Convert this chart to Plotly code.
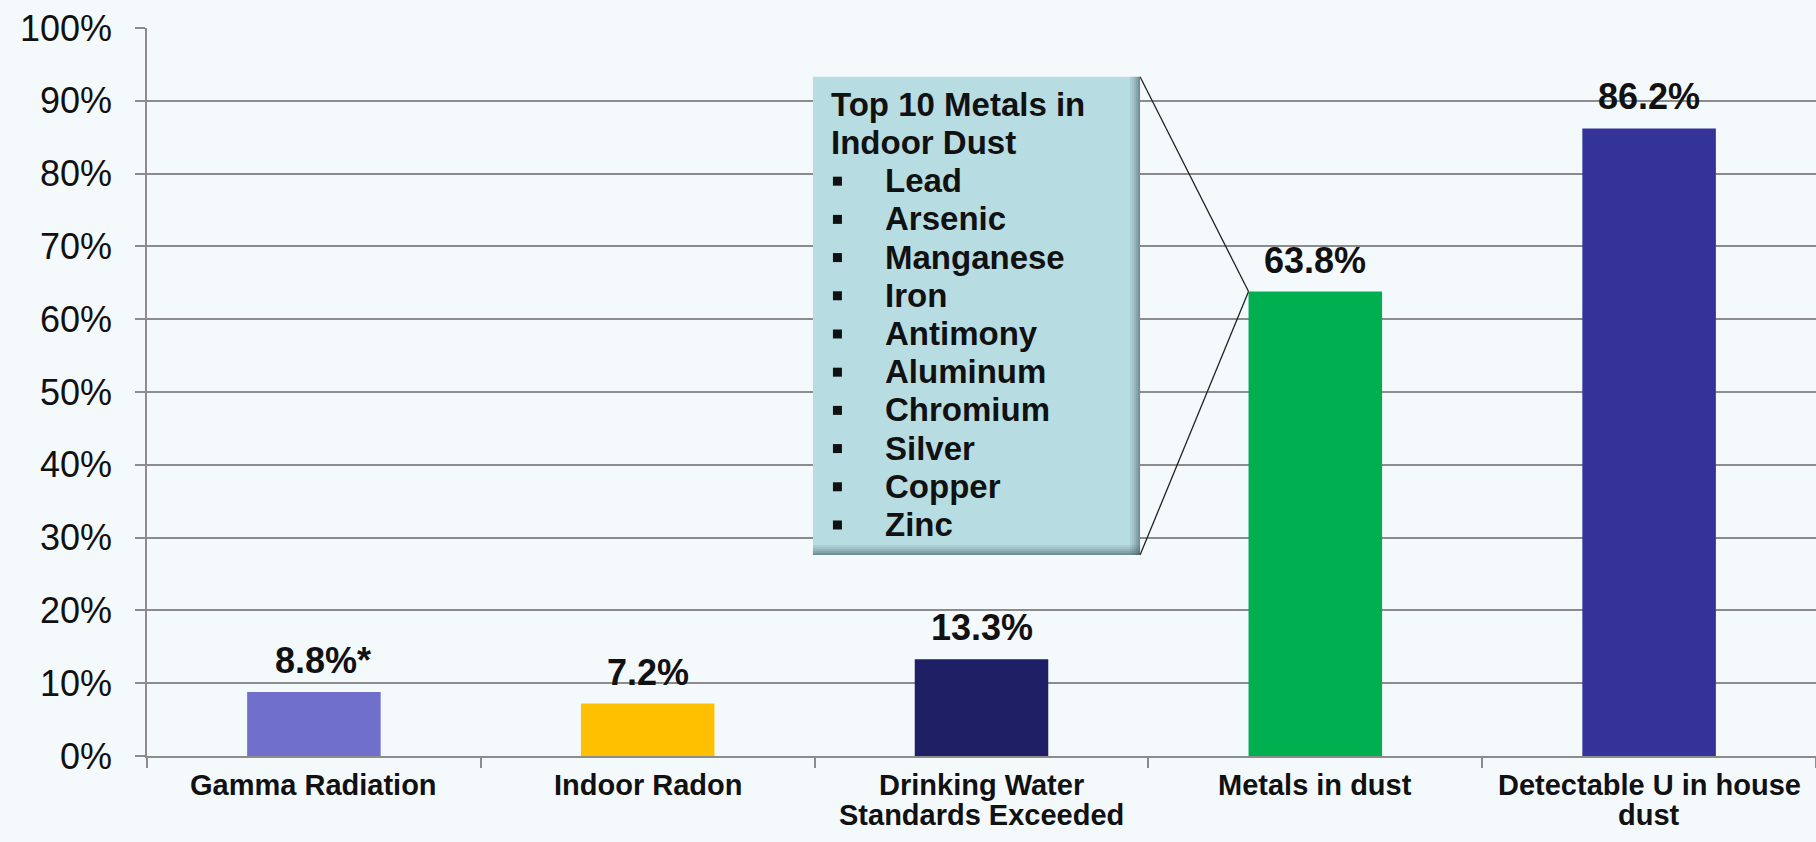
import plotly.graph_objects as go

# ---- data -----------------------------------------------------------------
categories = [
    "Gamma Radiation",
    "Indoor Radon",
    "Drinking Water Standards Exceeded",
    "Metals in dust",
    "Detectable U in house dust",
]
category_lines = [
    ["Gamma Radiation"],
    ["Indoor Radon"],
    ["Drinking Water", "Standards Exceeded"],
    ["Metals in dust"],
    ["Detectable U in house", "dust"],
]
percent_values = [8.8, 7.2, 13.3, 63.8, 86.2]
label_notes = ["*", "", "", "", ""]
y_ticks = [0, 10, 20, 30, 40, 50, 60, 70, 80, 90, 100]
y_tick_labels = [f"{t}%" for t in y_ticks]

callout_title = ["Top 10 Metals in", "Indoor Dust"]
top_metals = ["Lead", "Arsenic", "Manganese", "Iron", "Antimony",
              "Aluminum", "Chromium", "Silver", "Copper", "Zinc"]

# ---- styling --------------------------------------------------------------
bar_colors = ["#7070CC", "#FFC000", "#1F1F66", "#00B050", "#333399"]
FONT = "Liberation Sans, Arial, sans-serif"
GRID = "#8C8C8C"
BG = "#F4F9FC"
BOX_FILL = "#B7DDE2"
TEXT = "#111111"
BAR_WIDTH = 0.4

fig = go.Figure()
fig.add_trace(go.Bar(
    x=categories,
    y=percent_values,
    width=BAR_WIDTH,
    marker=dict(color=bar_colors, line=dict(width=0)),
    hoverinfo="skip",
))

annotations = []

# value labels above the bars
for cat, val, note in zip(categories, percent_values, label_notes):
    annotations.append(dict(
        x=cat, y=val, xref="x", yref="y",
        text=f"<b>{val:.1f}%{note}</b>",
        showarrow=False, xanchor="center", yanchor="bottom",
        xshift=9 if note else 0, yshift=9,
        font=dict(family=FONT, size=36, color=TEXT),
    ))

# category labels under the axis, one annotation per text line
for cat, lines in zip(categories, category_lines):
    for j, line in enumerate(lines):
        annotations.append(dict(
            x=cat, y=0, xref="x", yref="paper",
            text=f"<b>{line}</b>",
            showarrow=False, xanchor="center", yanchor="top",
            yshift=-11 - 30 * j,
            font=dict(family=FONT, size=29, color=TEXT),
        ))

# ---- callout box listing the metals --------------------------------------
box_x0, box_x1 = 1.495, 2.475
box_y0, box_y1 = 27.6, 93.3
target_idx = 3
target_x = target_idx - BAR_WIDTH / 2
target_y = percent_values[target_idx]

shapes = []
# connector lines from the box corners to the bar's top-left corner
for corner_y in (box_y1, box_y0):
    shapes.append(dict(
        type="line", xref="x", yref="y",
        x0=box_x1, y0=corner_y, x1=target_x, y1=target_y,
        line=dict(color="#222222", width=1.3), layer="above",
    ))
# box body
shapes.append(dict(
    type="rect", xref="x", yref="y",
    x0=box_x0, x1=box_x1, y0=box_y0, y1=box_y1,
    fillcolor=BOX_FILL, line=dict(width=0), layer="above",
))
# bevel shading along bottom and right edges
bevel = ["rgba(60,80,85,0.10)", "rgba(60,80,85,0.18)", "rgba(60,80,85,0.28)",
         "rgba(60,80,85,0.40)", "rgba(60,80,85,0.55)"]
for k, col in enumerate(bevel):
    shapes.append(dict(
        type="rect", xref="x", yref="y",
        x0=box_x0, x1=box_x1,
        ysizemode="pixel", yanchor=box_y0, y0=10 - 2 * k, y1=10 - 2 * k - 2,
        fillcolor=col, line=dict(width=0), layer="above",
    ))
    shapes.append(dict(
        type="rect", xref="x", yref="y",
        xsizemode="pixel", xanchor=box_x1, x0=-10 + 2 * k, x1=-10 + 2 * k + 2,
        y0=box_y0, y1=box_y1,
        fillcolor=col, line=dict(width=0), layer="above",
    ))

BOX_FONT = 33
LINE_STEP = 38.2        # px between baselines inside the box
FIRST_TOP = 7           # px from box top to first text box top
BASE_OFF = 31           # px from a text box top to its baseline

def box_line(text, k, indent):
    return dict(
        x=box_x0, y=box_y1, xref="x", yref="y",
        text=f"<b>{text}</b>",
        showarrow=False, xanchor="left", yanchor="top", align="left",
        xshift=indent, yshift=-(FIRST_TOP + LINE_STEP * k),
        font=dict(family=FONT, size=BOX_FONT, color=TEXT),
    )

for k, t in enumerate(callout_title):
    annotations.append(box_line(t, k, 16))
for m_i, metal in enumerate(top_metals):
    k = m_i + len(callout_title)
    annotations.append(box_line(metal, k, 70))
    baseline = FIRST_TOP + BASE_OFF + LINE_STEP * k
    shapes.append(dict(
        type="rect", xref="x", yref="y",
        xsizemode="pixel", xanchor=box_x0, x0=20, x1=29,
        ysizemode="pixel", yanchor=box_y1, y0=-(baseline - 14.5), y1=-(baseline - 5.5),
        fillcolor=TEXT, line=dict(width=0), layer="above",
    ))

fig.update_layout(
    width=1816, height=842,
    margin=dict(l=147, r=0, t=28, b=86, pad=0),
    paper_bgcolor=BG, plot_bgcolor=BG,
    showlegend=False,
    bargap=0.6,
    shapes=shapes,
    annotations=annotations,
    xaxis=dict(
        type="category",
        range=[-0.5, len(categories) - 0.5],
        showline=True, linecolor=GRID, linewidth=1.5,
        ticks="outside", tickson="boundaries", ticklen=10,
        tickcolor=GRID, tickwidth=1.5,
        showticklabels=False, showgrid=False, zeroline=False,
    ),
    yaxis=dict(
        range=[0, 100],
        tickvals=y_ticks, ticktext=y_tick_labels,
        showgrid=True, gridcolor=GRID, gridwidth=1.5,
        showline=True, linecolor=GRID, linewidth=1.5,
        ticks="outside", ticklen=10, tickcolor=GRID, tickwidth=1.5,
        ticklabelstandoff=16,
        tickfont=dict(family=FONT, size=36, color=TEXT),
        zeroline=False,
    ),
)

fig.write_html("out.html")
